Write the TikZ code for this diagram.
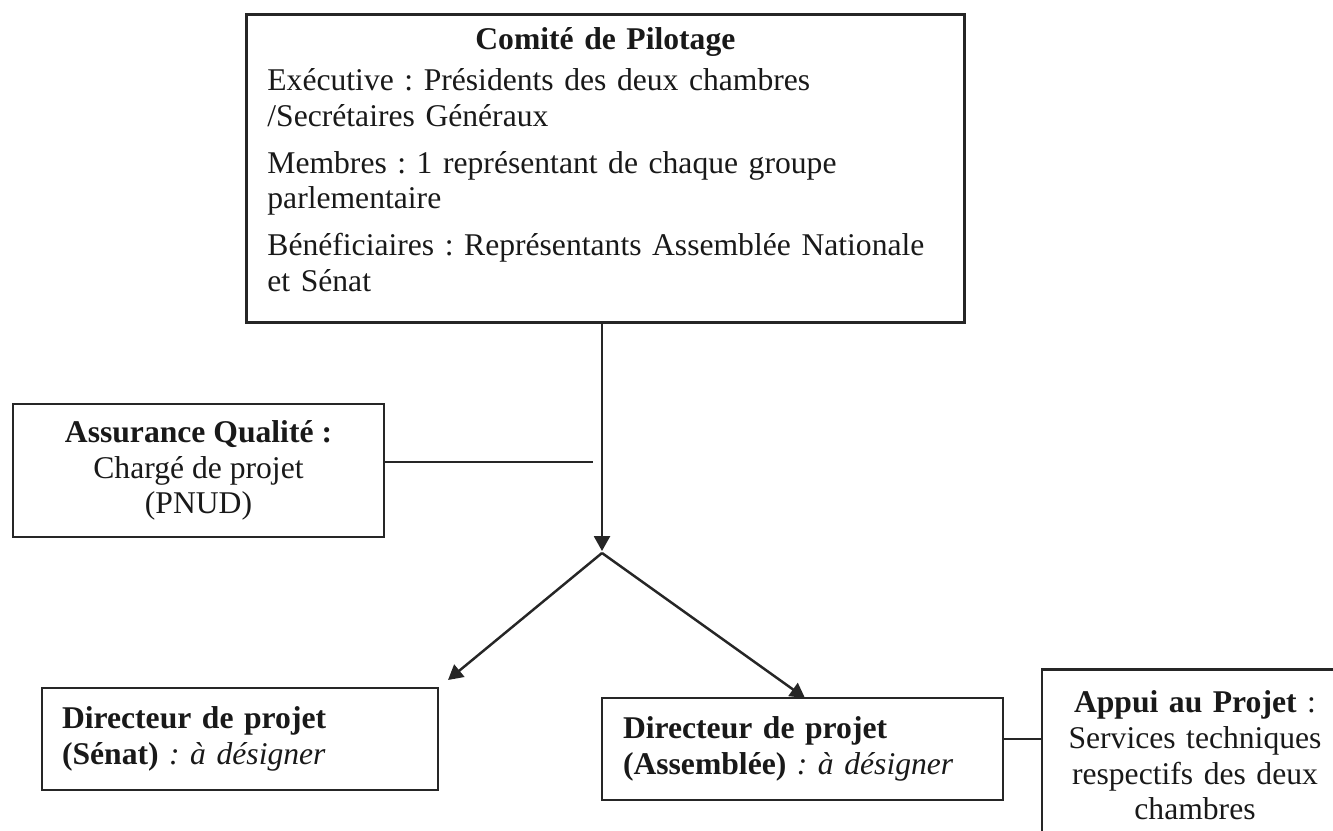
\documentclass[tikz,border=0pt]{standalone}
\usepackage{fontspec}
\setmainfont{Liberation Serif}
\usetikzlibrary{positioning,calc,arrows.meta}
\frenchspacing

\begin{document}
\begin{tikzpicture}[every node/.style={font=\fontsize{9.0}{10.2}\selectfont, text=black!90},
    box/.style={draw=black!85, line width=0.8pt, inner xsep=0.2cm, inner ysep=3pt},
    link/.style={draw=black!85, line width=0.7pt},
    arr/.style={-{Triangle[length=4.2pt,width=4.5pt]}}]
    \useasboundingbox (0,0) rectangle (13.33,-8.31);
    \clip (0,0) rectangle (13.33,-8.31);

    \node[box, anchor=north west, text width=6.76cm, align=left, inner xsep=0.21cm, inner ysep=3.7pt] (copil) at (2.45,-0.13)
        {{\centering\bfseries Comité de Pilotage\par}\vspace{1.5pt}
         Exécutive : Présidents des deux chambres\\
         /Secrétaires Généraux\par\vspace{3.1pt}
         Membres : 1 représentant de chaque groupe\\
         parlementaire\par\vspace{3.1pt}
         Bénéficiaires : Représentants Assemblée Nationale\\
         et Sénat\rule[-5.1pt]{0pt}{1pt}};

    \node[box, minimum width=3.71cm, minimum height=1.33cm, align=center] (qa) at (1.985,-4.705)
        {\textbf{Assurance Qualité :}\\Chargé de projet\\(PNUD)};

    \node[box, minimum height=1.02cm, text width=3.56cm, align=left] (senat) at (2.40,-7.39)
        {\textbf{Directeur de projet}\\\textbf{(Sénat)} \textit{: à désigner}};

    \node[box, minimum height=1.02cm, text width=3.59cm, inner xsep=0.21cm, align=left] (asm) at (8.025,-7.49)
        {\textbf{Directeur de projet}\\\textbf{(Assemblée)} \textit{: à désigner}};

    \node[box, anchor=north, text width=2.86cm, inner xsep=0.1cm, inner ysep=6pt, align=center] (appui) at (11.95,-6.68)
        {\textbf{Appui au Projet} :\\Services techniques\\respectifs des deux\\chambres\rule[-30pt]{0pt}{1pt}};

    \coordinate (downtip) at (6.02,-5.51);
    \coordinate (split) at (6.02,-5.53);
    \coordinate (qaend) at (5.93,-4.62);
    \coordinate (senattip) at (4.48,-6.80);
    \coordinate (asmtip) at (8.05,-6.98);
    \coordinate (apline) at (10.2,-7.39);

    \draw[link, arr] (downtip |- copil.south) -- (downtip);
    \draw[link] (qaend -| qa.east) -- (qaend);
    \draw[link, arr] (split) -- (senattip);
    \draw[link, arr] (split) -- (asmtip);
    \draw[link] (apline -| asm.east) -- (apline -| appui.west);
\end{tikzpicture}
\end{document}
